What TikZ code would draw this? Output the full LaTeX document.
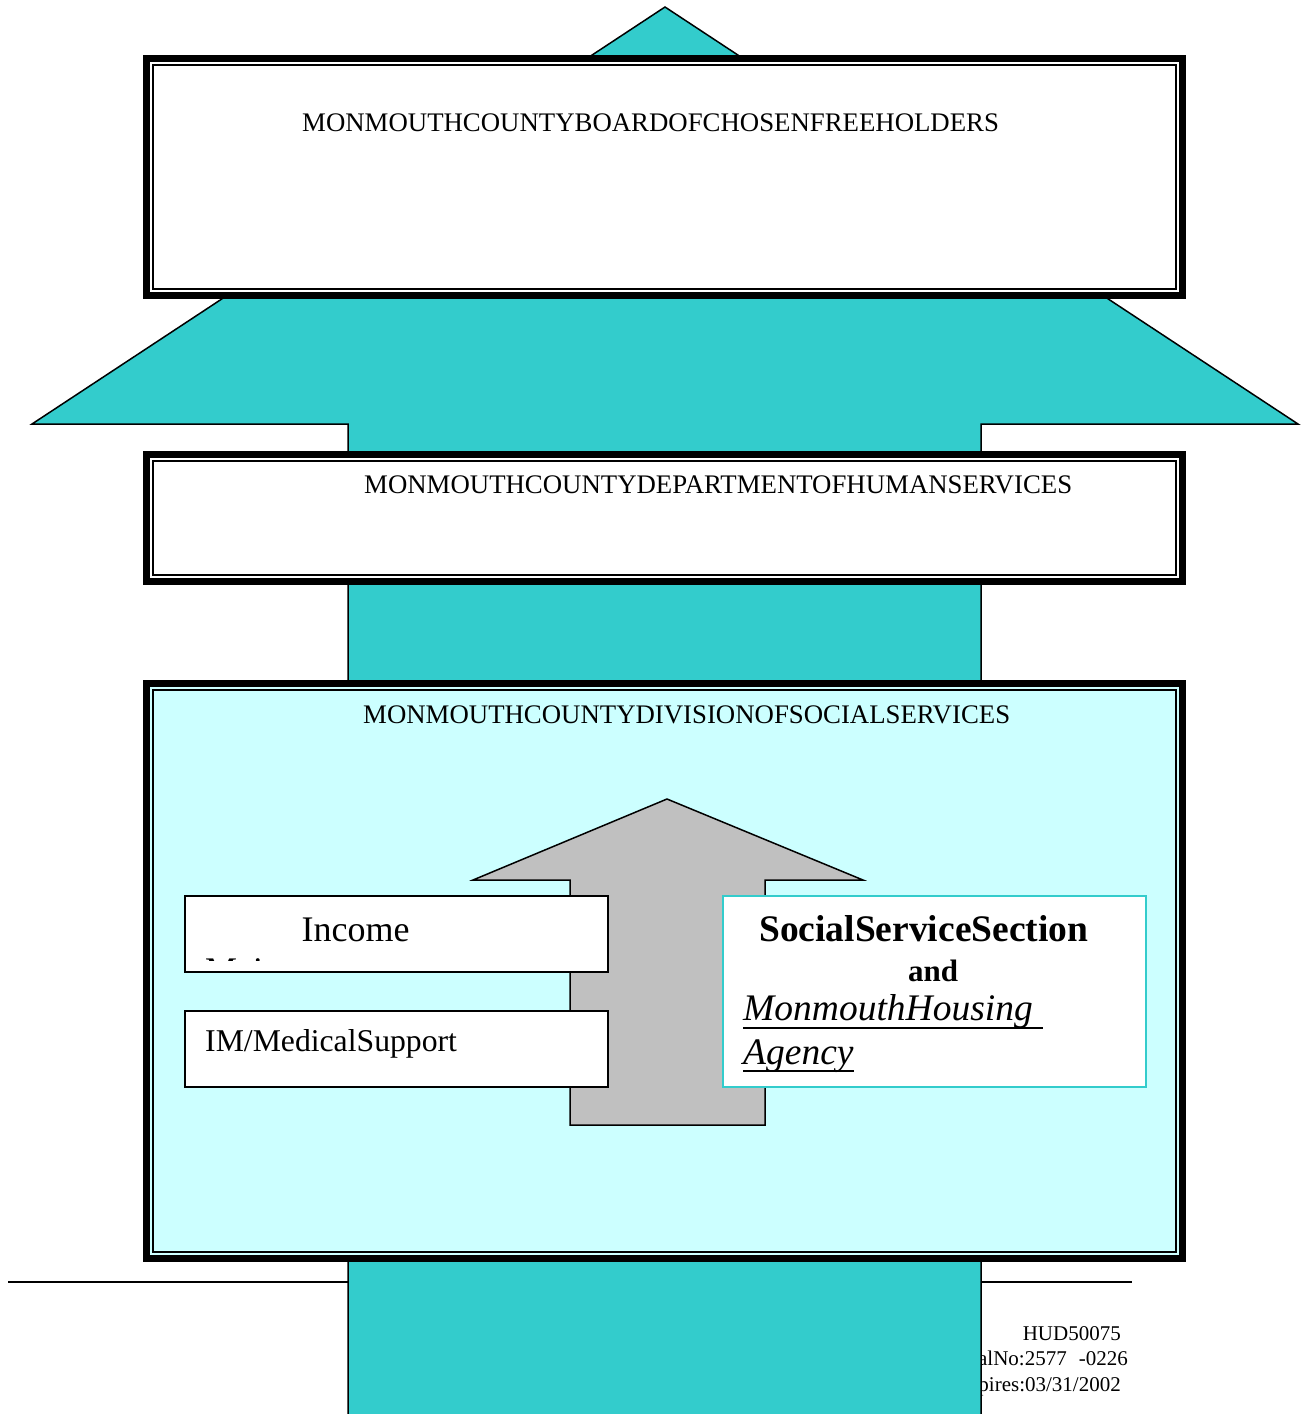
\documentclass[tikz,border=0pt]{standalone}
\usepackage{fontspec}
\setmainfont{Liberation Serif}
\definecolor{tealfill}{HTML}{33CCCC}
\definecolor{paleaqua}{HTML}{CCFFFF}
\definecolor{greyfill}{HTML}{C0C0C0}
\begin{document}
\begin{tikzpicture}[x=1pt,y=-1pt,
  bigarrow/.style={fill=tealfill,draw=black,line width=1.5pt,line join=miter},
  greyarrow/.style={fill=greyfill,draw=black,line width=1.5pt,line join=miter},
  thickframe/.style={draw=black,line width=7pt},
  thinframe/.style={draw=black,line width=1.5pt},
  heading/.style={inner sep=0pt,anchor=base west,font=\fontsize{26.8}{30}\selectfont},
  smallbox/.style={draw=black,fill=white,line width=2pt,inner sep=0pt,anchor=north west,minimum width=423pt,minimum height=76pt},
  sectbox/.style={draw=tealfill,fill=white,line width=2pt,inner sep=0pt,anchor=north west,minimum width=423pt,minimum height=191pt},
  foot/.style={inner sep=0pt,anchor=base east,font=\fontsize{21}{24}\selectfont},
  plain/.style={inner sep=0pt,anchor=base west}]
\useasboundingbox (0,0) rectangle (1311,1414);
% footer rule and text (behind the arrow)
\coordinate (fl) at (8,1282);
\coordinate (fr) at (1132,1282);
\draw[line width=2pt] (fl) -- (fr);
\node[foot] (hud) at (1121,1340) {HUD50075};
\node[foot] (omb) at (1128,1365) {OMBApprovalNo:2577\hspace{12pt}-0226};
\node[foot] (exp) at (1121,1391) {Expires:03/31/2002};
% big teal arrow
\draw[bigarrow] (665,7) -- (1298,424) -- (981,424) -- (981,1430) -- (348,1430) -- (348,424) -- (32,424) -- cycle;
% board frame
\fill[white] (143,55) rectangle (1186,299);
\draw[thickframe] (146.5,58.5) rectangle (1182.5,295.5);
\draw[thinframe] (153,65) rectangle (1176,289);
\node[heading] (board) at (302,131) {MONMOUTHCOUNTYBOARDOFCHOSENFREEHOLDERS};
% department frame
\fill[white] (143,451) rectangle (1186,585);
\draw[thickframe] (146.5,454.5) rectangle (1182.5,581.5);
\draw[thinframe] (153,461) rectangle (1176,575);
\node[heading] (dept) at (364,493) {MONMOUTHCOUNTYDEPARTMENTOFHUMANSERVICES};
% division frame
\fill[paleaqua] (143,680) rectangle (1186,1262);
\draw[thickframe] (146.5,683.5) rectangle (1182.5,1258.5);
\draw[thinframe] (153,690) rectangle (1176,1252);
\node[heading] (div) at (363,723) {MONMOUTHCOUNTYDIVISIONOFSOCIALSERVICES};
% grey arrow
\draw[greyarrow] (667,799) -- (863,880) -- (765,880) -- (765,1125) -- (570,1125) -- (570,880) -- (473,880) -- cycle;
% income box
\node[smallbox] (incbox) at (184,895) {};
\begin{scope}
  \clip (186,897) rectangle (605,960.5);
  \node[plain,font=\fontsize{36}{40}\selectfont] (maint) at (205,982) {Maintenance};
\end{scope}
\node[plain,font=\fontsize{36}{40}\selectfont] (inc) at (301.5,941) {Income};
% medical box
\node[smallbox] (imbox) at (184,1010) {};
\node[plain,font=\fontsize{31.7}{36}\selectfont] (im) at (205,1051) {IM/MedicalSupport};
% social service box
\node[sectbox] (ssbox) at (722,895) {};
\node[plain,font=\fontsize{37.5}{42}\bfseries\selectfont] (ss) at (759,941) {SocialServiceSection};
\node[plain,font=\fontsize{31}{36}\bfseries\selectfont] (and) at (908,981) {and};
\node[plain,font=\fontsize{37.5}{42}\itshape\selectfont] (mh) at (743,1020) {MonmouthHousing\hspace*{10pt}};
\node[plain,font=\fontsize{37.5}{42}\itshape\selectfont] (ag) at (743,1064) {Agency};
\draw[line width=2pt] ([yshift=-8pt]mh.base west) -- ([yshift=-8pt]mh.base east);
\draw[line width=2pt] ([yshift=-7pt]ag.base west) -- ([yshift=-7pt]ag.base east);
\end{tikzpicture}
\end{document}
